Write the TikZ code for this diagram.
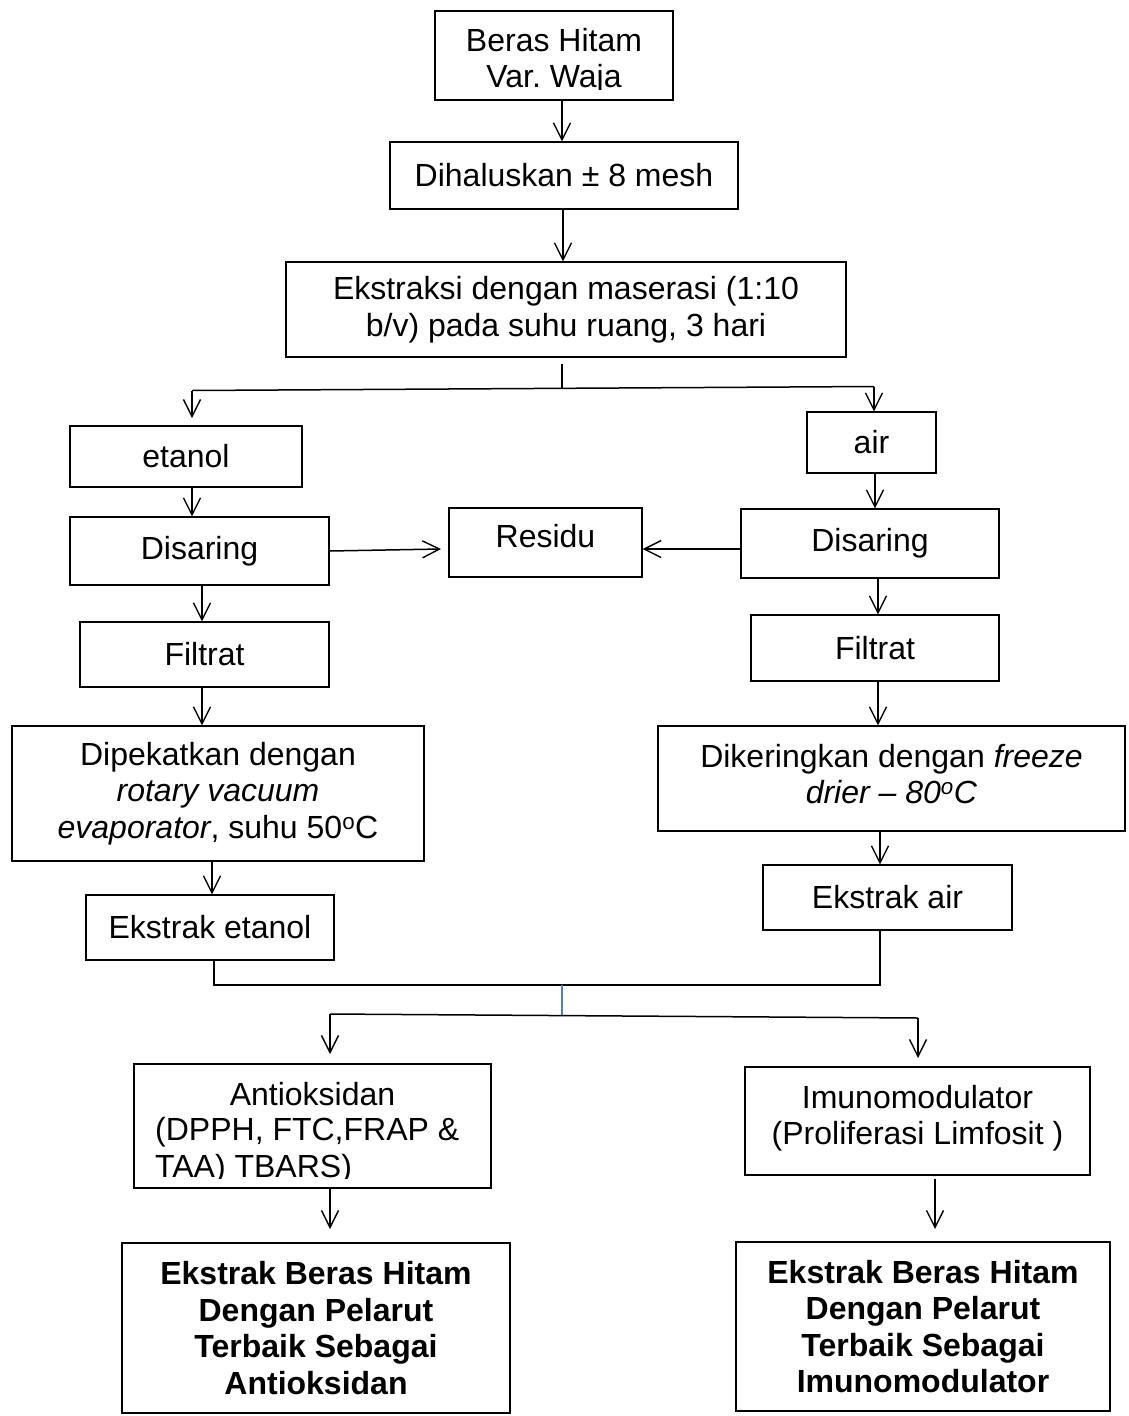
\documentclass[tikz,border=0pt]{standalone}
\usepackage{fontspec}
\setmainfont{Liberation Sans}
\usetikzlibrary{arrows.meta}
\frenchspacing
\begin{document}
\begin{tikzpicture}[x=1pt,y=-1pt,
  box/.style={draw, line width=1.2pt, inner sep=0pt, align=center, font=\fontsize{32}{36.5}\selectfont},
  plain/.style={inner sep=0pt, align=center, font=\fontsize{32}{36.5}\selectfont},
  bbox/.style={box, font=\fontsize{32}{36.5}\selectfont\bfseries},
  conn/.style={line width=1.5pt},
  arr/.style={conn, -{Straight Barb[length=17pt,width=17pt,line width=1.4pt]}}]
\useasboundingbox (0,0) rectangle (1128,1416);

% boxes
\node[box, minimum width=238pt, minimum height=89pt] (beras) at (554,55.5) {};
\begin{scope}
  \clip (436,12) rectangle (672,89);
  \node[plain] (berastext) at (554,61) {Beras Hitam\\Var. Waja};
\end{scope}
\node[box, minimum width=348pt, minimum height=67pt] (halus) at (564,175.5) {Dihaluskan ± 8 mesh};
\node[box, minimum width=560pt, minimum height=95pt] (ekstraksi) at (566,309.5) {Ekstraksi dengan maserasi (1:10\\b/v) pada suhu ruang, 3 hari};
\node[box, minimum width=232pt, minimum height=61pt] (etanol) at (186,456.5) {etanol};
\node[box, minimum width=129pt, minimum height=61pt] (air) at (871.5,442.5) {air};
\node[box, minimum width=259pt, minimum height=68pt] (disL) at (199.5,551) {Disaring};
\node[box, minimum width=193pt, minimum height=69pt, text depth=14pt] (residu) at (545.5,542.5) {Residu};
\node[box, minimum width=258pt, minimum height=69pt] (disR) at (870,543.5) {Disaring};
\node[box, minimum width=249pt, minimum height=65pt] (filL) at (204.5,654.5) {Filtrat};
\node[box, minimum width=248pt, minimum height=66pt] (filR) at (875,648) {Filtrat};
\node[box, minimum width=412pt, minimum height=135pt] (dipek) at (218,793.5) {Dipekatkan dengan\\\textit{rotary vacuum}\\\textit{evaporator}, suhu 50\textsuperscript{o}C};
\node[box, minimum width=467pt, minimum height=105pt] (diker) at (891.5,778.5) {};
\node[plain] (dikertext) at (891.5,774) {Dikeringkan dengan \textit{freeze}\\\textit{drier – 80\textsuperscript{o}C}};
\node[box, minimum width=248pt, minimum height=65pt] (ekE) at (210,927.5) {Ekstrak etanol};
\node[box, minimum width=249pt, minimum height=65pt] (ekA) at (887.5,897.5) {Ekstrak air};
\node[box, minimum width=357pt, minimum height=124pt] (anti) at (312.5,1126) {};
\begin{scope}
  \clip (135,1065) rectangle (490,1178);
  \node[plain] (antitext1) at (312.5,1094) {Antioksidan};
  \node[plain, align=left, anchor=north west] (antitext2) at (155,1117.5) {(DPPH, FTC,FRAP \&\\TAA) TBARS)};
\end{scope}
\node[box, minimum width=345pt, minimum height=108pt] (imuno) at (917.5,1121) {};
\node[plain] (imunotext) at (917.5,1118) {Imunomodulator\\(Proliferasi Limfosit )};
\node[bbox, minimum width=388pt, minimum height=170pt] (finL) at (316,1328) {Ekstrak Beras Hitam\\Dengan Pelarut\\Terbaik Sebagai\\Antioksidan};
\node[bbox, minimum width=374pt, minimum height=169pt] (finR) at (923,1326.5) {Ekstrak Beras Hitam\\Dengan Pelarut\\Terbaik Sebagai\\Imunomodulator};

% connectors
\draw[arr] (beras.south -| 562,0) -- (halus.north -| 562,0);
\draw[arr] (halus.south -| 563,0) -- (ekstraksi.north -| 563,0);

\coordinate (s1) at (562,364);
\coordinate (j1) at (562,388.5);
\coordinate (l1) at (192,390.5);
\coordinate (r1) at (874,386.5);
\draw[conn] (s1) -- (j1);
\draw[conn] (l1) -- (r1);
\draw[arr] (l1) -- (192,418);
\draw[arr] (r1) -- (air.north -| 874,0);

\draw[arr] (etanol.south -| 192,0) -- (disL.north -| 192,0);
\draw[arr] (air.south -| 875,0) -- (disR.north -| 875,0);
\draw[arr] (disL.east |- 0,551) -- (441,549);
\draw[arr] (disR.west |- 0,549) -- (residu.east |- 0,549);
\draw[arr] (disL.south -| 202,0) -- (filL.north -| 202,0);
\draw[arr] (disR.south -| 878,0) -- (filR.north -| 878,0);
\draw[arr] (filL.south -| 202,0) -- (dipek.north -| 202,0);
\draw[arr] (filR.south -| 878,0) -- (diker.north -| 878,0);
\draw[arr] (dipek.south -| 212,0) -- (ekE.north -| 212,0);
\draw[arr] (diker.south -| 880,0) -- (ekA.north -| 880,0);

\coordinate (jl) at (214,985);
\coordinate (jr) at (880,985);
\coordinate (jm) at (562,985);
\coordinate (jm2) at (562,1015.5);
\coordinate (l2) at (330,1014);
\coordinate (r2) at (918,1018);
\draw[conn] (ekE.south -| jl) -- (jl) -- (jr) -- (ekA.south -| jr);
\draw[line width=1.2pt, color={rgb,255:red,79;green,129;blue,189}] (jm) -- (jm2);
\draw[conn] (l2) -- (r2);
\draw[arr] (l2) -- (330,1054);
\draw[arr] (r2) -- (918,1058);
\draw[arr] (anti.south -| 330,0) -- (330,1229);
\draw[arr] (935,1179) -- (935,1229);
\end{tikzpicture}
\end{document}
